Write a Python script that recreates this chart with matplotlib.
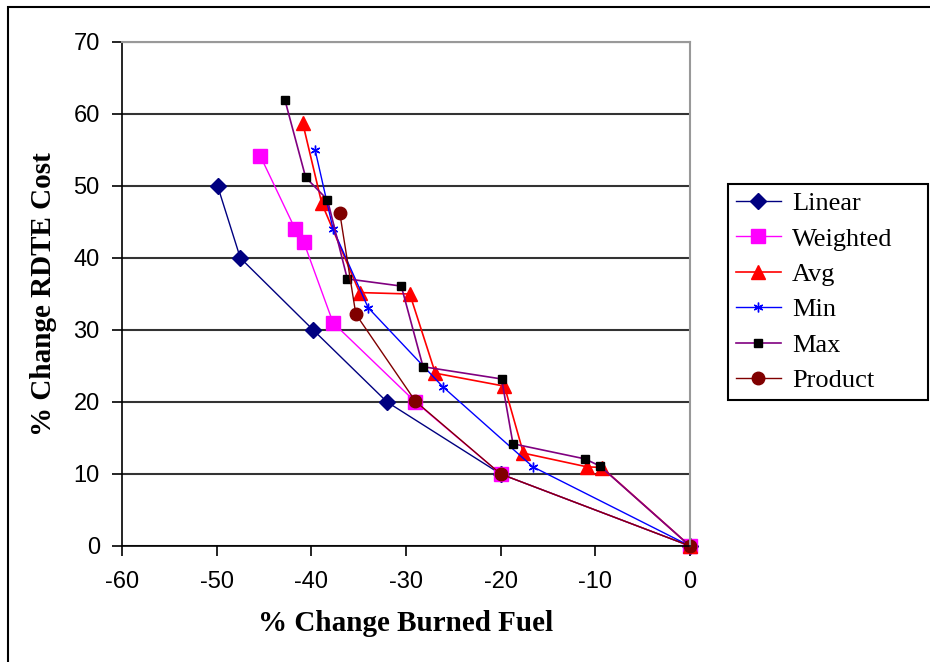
import matplotlib
matplotlib.use("Agg")
import matplotlib.pyplot as plt
from matplotlib.patches import Rectangle

plt.rcParams['axes.unicode_minus'] = False

# data
linear_x = [-49.9, -47.5, -39.8, -32.0, -20.0, 0]
linear_y = [50.0, 40.0, 30.0, 20.0, 10.0, 0]

weighted_x = [-45.4, -41.7, -40.8, -37.7, -29.0, -20.0, 0]
weighted_y = [54.2, 44.0, 42.2, 31.0, 20.0, 10.0, 0]

avg_x = [-40.9, -38.9, -34.9, -29.6, -26.9, -19.6, -17.6, -10.9, -9.3, 0]
avg_y = [58.7, 47.6, 35.2, 35.0, 24.0, 22.2, 12.9, 11.0, 10.9, 0]

min_x = [-39.6, -37.7, -34.0, -26.1, -16.6, 0]
min_y = [55.0, 44.0, 33.1, 22.1, 11.0, 0]

max_x = [-42.8, -40.6, -38.3, -36.2, -30.5, -28.2, -19.9, -18.7, -11.1, -9.5, 0]
max_y = [62.0, 51.2, 48.1, 37.1, 36.1, 24.9, 23.2, 14.2, 12.1, 11.1, 0]

product_x = [-37.0, -35.3, -29.0, -20.0, 0]
product_y = [46.3, 32.2, 20.1, 10.0, 0]

x_ticks = [-60, -50, -40, -30, -20, -10, 0]
y_ticks = [0, 10, 20, 30, 40, 50, 60, 70]

fig = plt.figure(figsize=(9.3, 6.62), dpi=100)
ax = fig.add_axes([122/930, 116/662, (690-122)/930, (546-42)/662])

ax.plot(linear_x, linear_y, color='#000080', lw=1, marker='D', ms=8,
        clip_on=False, label='Linear')
ax.plot(weighted_x, weighted_y, color='#FF00FF', lw=1, marker='s', ms=10,
        clip_on=False, label='Weighted')
ax.plot(avg_x, avg_y, color='#FF0000', lw=1.2, marker='^', ms=10,
        clip_on=False, label='Avg')
ax.plot(min_x, min_y, color='#0000FF', lw=1, marker=(6, 2, 0), ms=7, mew=1,
        clip_on=False, label='Min')
ax.plot(max_x, max_y, color='#800080', lw=1.2, marker='s', ms=6,
        mfc='black', mec='black', clip_on=False, label='Max')
ax.plot(product_x, product_y, color='#800000', lw=1, marker='o', ms=9,
        clip_on=False, label='Product')

ax.set_xlim(-60, 0)
ax.set_ylim(0, 70)
ax.set_xticks(x_ticks)
ax.set_yticks(y_ticks)
ax.tick_params(direction='out', length=7, width=1.2, labelsize=17)
ax.tick_params(axis='x', pad=11)
ax.tick_params(axis='y', pad=9)
for lab in ax.get_xticklabels() + ax.get_yticklabels():
    lab.set_family('Liberation Sans')

ax.grid(axis='y', color='#333333', lw=1.5)
ax.set_axisbelow(True)
for s in ['top', 'right']:
    ax.spines[s].set_color('#999999')
    ax.spines[s].set_linewidth(1.5)
for s in ['left', 'bottom']:
    ax.spines[s].set_color('black')
    ax.spines[s].set_linewidth(1.2)

ax.set_xlabel('% Change Burned Fuel', family='Liberation Serif', weight='bold',
              fontsize=21, labelpad=12)
ax.set_ylabel('% Change RDTE Cost', family='Liberation Serif', weight='bold',
              fontsize=21, labelpad=12)

leg = fig.legend(loc='upper left', mode='expand',
                 bbox_to_anchor=(728/930, (662-402)/662, 200/930, 218/662),
                 prop={'family': 'Liberation Serif', 'size': 19},
                 fancybox=False, edgecolor='black', framealpha=1,
                 handlelength=1.7, labelspacing=0.45, borderpad=0.3,
                 handletextpad=0.42, borderaxespad=0)
leg.get_frame().set_linewidth(1.5)

# outer chart frame
fig.patches.append(Rectangle((8/930, -0.1), 1, (662-7)/662 + 0.1,
                             transform=fig.transFigure, fill=False,
                             edgecolor='black', lw=1.5))

fig.savefig('out.png', dpi=100)
